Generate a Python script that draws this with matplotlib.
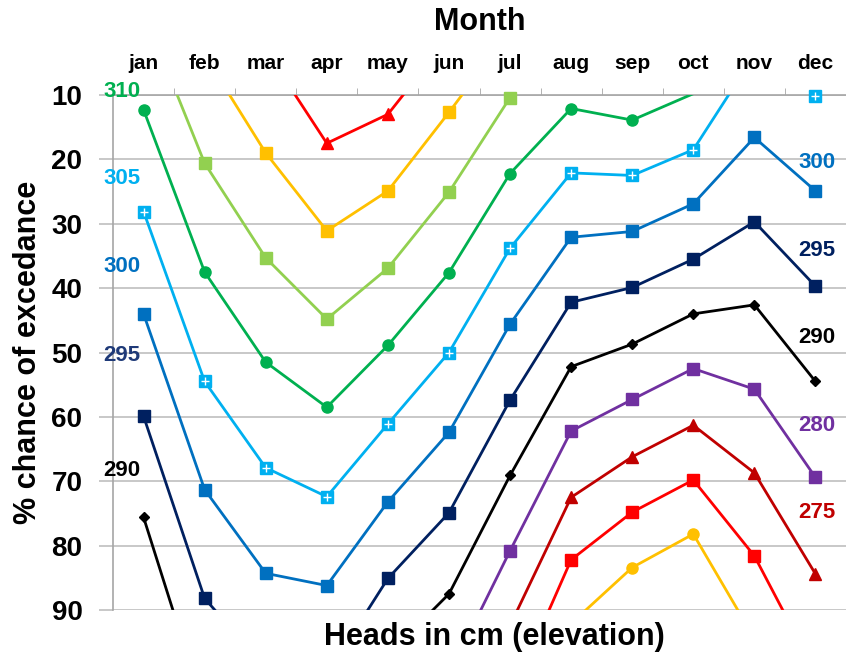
import numpy as np
import matplotlib.pyplot as plt

plt.rcParams['font.family'] = ['Liberation Sans', 'DejaVu Sans']
plt.rcParams['font.weight'] = 'bold'

nan = np.nan
months = ['jan', 'feb', 'mar', 'apr', 'may', 'jun', 'jul', 'aug', 'sep', 'oct', 'nov', 'dec']

# % chance of excedance per month, one list per head contour (values outside 10-90 run off the chart)
red_tri = [nan, nan, 3.0, 17.5, 13.0, 1.0, nan, nan, nan, nan, nan, nan]
gold_sq = [nan, 3.8, 19.0, 31.1, 24.9, 12.7, 0.0, nan, nan, nan, nan, nan]
lgreen_sq = [-3.0, 20.6, 35.3, 44.8, 36.9, 25.1, 10.4, nan, nan, nan, nan, nan]
green_circ = [12.3, 37.5, 51.5, 58.5, 48.9, 37.6, 22.2, 12.1, 13.9, 9.8, nan, nan]
lblue_sq = [28.1, 54.5, 67.9, 72.4, 61.1, 50.0, 33.8, 22.1, 22.5, 18.5, 3.8, 10.2]
blue_sq = [44.0, 71.3, 84.3, 86.2, 73.2, 62.4, 45.6, 32.1, 31.2, 26.9, 16.6, 24.9]
navy_sq = [59.9, 88.2, 99.0, 100.0, 85.1, 74.9, 57.4, 42.2, 39.9, 35.5, 29.7, 39.7]
black_dia = [75.6, 105.6, nan, nan, 97.0, 87.5, 69.1, 52.2, 48.7, 44.0, 42.6, 54.5]
purple_sq = [nan, nan, nan, nan, nan, 100.0, 80.8, 62.2, 57.3, 52.5, 55.7, 69.4]
dred_tri = [nan, nan, nan, nan, nan, nan, 92.4, 72.5, 66.2, 61.3, 68.7, 84.4]
red_sq = [nan, nan, nan, nan, nan, nan, 103.8, 82.2, 74.8, 69.8, 81.6, 99.7]
gold_circ = [nan, nan, nan, nan, nan, nan, nan, 92.1, 83.4, 78.2, 94.4, nan]

# contour labels on the left and right edges
left_labels = ['310', '305', '300', '295', '290']
left_label_y = [9.5, 22.9, 36.6, 50.4, 68.4]
left_label_colors = ['#00B050', '#00B0F0', '#0070C0', '#1F3A78', '#000000']
right_labels = ['300', '295', '290', '280', '275']
right_label_y = [20.5, 34.1, 47.6, 61.4, 74.9]
right_label_colors = ['#0070C0', '#002060', '#000000', '#7030A0', '#C00000']

styles = [
    (red_tri, '#FF0000', '^', 8),
    (gold_sq, '#FFC000', 's', 8),
    (lgreen_sq, '#92D050', 's', 8),
    (green_circ, '#00B050', 'o', 8),
    (lblue_sq, '#00B0F0', 's', 8),
    (blue_sq, '#0070C0', 's', 8),
    (navy_sq, '#002060', 's', 8),
    (black_dia, '#000000', 'D', 5),
    (purple_sq, '#7030A0', 's', 8),
    (dred_tri, '#C00000', '^', 8),
    (red_sq, '#FF0000', 's', 8),
    (gold_circ, '#FFC000', 'o', 8),
]

fig = plt.figure(figsize=(8.46, 6.56), dpi=100)
ax = fig.add_axes([0.1336, 0.0701, 0.8664, 0.7851])

x = np.arange(len(months))
for vals, color, marker, ms in styles:
    v = np.array(vals, dtype=float)
    ax.plot(x, v, color=color, lw=2, zorder=3)
    m = (v >= 10) & (v <= 90)
    ax.plot(x[m], v[m], ls='none', marker=marker, ms=ms, color=color,
            mec=color, clip_on=False, zorder=4)
    if color == '#00B0F0':
        ax.plot(x[m], v[m], ls='none', marker='+', ms=6, mew=1, color='white',
                clip_on=False, zorder=5)

ax.set_xlim(-0.5, 11.5)
ax.set_ylim(90, 10)
ax.set_yticks(range(10, 91, 10))
ax.yaxis.grid(True, color='#BFBFBF', lw=1.2)
ax.set_axisbelow(True)

ax.xaxis.tick_top()
ax.set_xticks(x)
ax.set_xticklabels(months, fontsize=15, fontweight='bold')
ax.set_xticks(np.arange(-0.5, 12, 1), minor=True)
ax.tick_params(axis='x', which='major', length=0, pad=16)
ax.tick_params(axis='x', which='minor', length=5, color='#A6A6A6', top=True, bottom=False)
ax.tick_params(axis='y', length=10, color='#BFBFBF', width=1.2, pad=12, labelsize=20)

for s in ['right', 'bottom']:
    ax.spines[s].set_visible(False)
for s in ['left', 'top']:
    ax.spines[s].set_color('#A6A6A6')
    ax.spines[s].set_linewidth(1.2)

for t, yv, c in zip(left_labels, left_label_y, left_label_colors):
    ax.text(-0.36, yv, t, color=c, fontsize=16, fontweight='bold',
            ha='center', va='center', zorder=6, clip_on=False)
for t, yv, c in zip(right_labels, right_label_y, right_label_colors):
    ax.text(11.03, yv, t, color=c, fontsize=16, fontweight='bold',
            ha='center', va='center', zorder=6, clip_on=False)

fig.text(480 / 846, 1 - 22 / 656, 'Month', fontsize=22, fontweight='bold',
         ha='center', va='center')
fig.text(494 / 846, 1 - 637 / 656, 'Heads in cm (elevation)', fontsize=22,
         fontweight='bold', ha='center', va='center')
fig.text(28 / 846, 1 - 352 / 656, '% chance of excedance', fontsize=22,
         fontweight='bold', ha='center', va='center', rotation=90)

fig.savefig('out.png', dpi=100)
